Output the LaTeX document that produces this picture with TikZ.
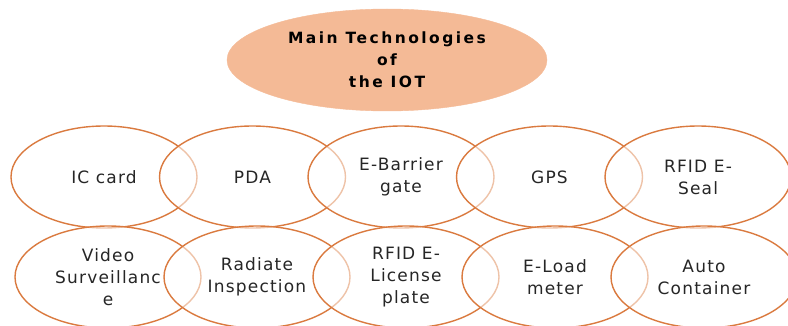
\documentclass[tikz,border=0pt]{standalone}
\usepackage{fontspec}
\setmainfont{DejaVu Sans}[LetterSpace=7]
\newfontfamily\hubfont{DejaVu Sans}[LetterSpace=16]
\usetikzlibrary{shapes.geometric}
\definecolor{ring}{HTML}{DA7A3F}
\definecolor{peach}{HTML}{F4BA96}
\tikzset{
  tech/.style={ellipse, draw=ring, line width=1.4pt, fill=white,
    fill opacity=0.55, text opacity=1, minimum width=186pt,
    minimum height=102pt, inner sep=0pt, align=center,
    font=\fontsize{17}{22}\selectfont, text=black!85},
  hub/.style={ellipse, fill=peach, draw=peach, minimum width=320pt,
    minimum height=102pt, inner sep=0pt, align=center,
    font=\hubfont\fontsize{15.5}{22}\selectfont\bfseries}
}
\begin{document}
\begin{tikzpicture}[x=1pt,y=-1pt]
\useasboundingbox (0,0) rectangle (788,326);
\clip (0,0) rectangle (788,326);
\node[hub] (hub) at (387,60) {Main Technologies\\of\\the IOT};
% upper row
\node[tech] (ic)   at (104,177)   {IC card};
\node[tech] (pda)  at (252.5,177) {PDA};
\node[tech] (gate) at (401,177)   {E-Barrier\\gate};
\node[tech] (gps)  at (549.5,177) {GPS};
\node[tech] (seal) at (698,177)   {RFID E-\\Seal};
% lower row
\node[tech] (video) at (108,277) {Video\\Surveillanc\\e};
\node[tech] (rad)   at (257,277) {Radiate\\Inspection};
\node[tech] (plate) at (406,277) {RFID E-\\License\\plate};
\node[tech] (load)  at (555,277) {E-Load\\meter};
\node[tech] (cont)  at (704,277) {Auto\\Container};
\end{tikzpicture}
\end{document}
